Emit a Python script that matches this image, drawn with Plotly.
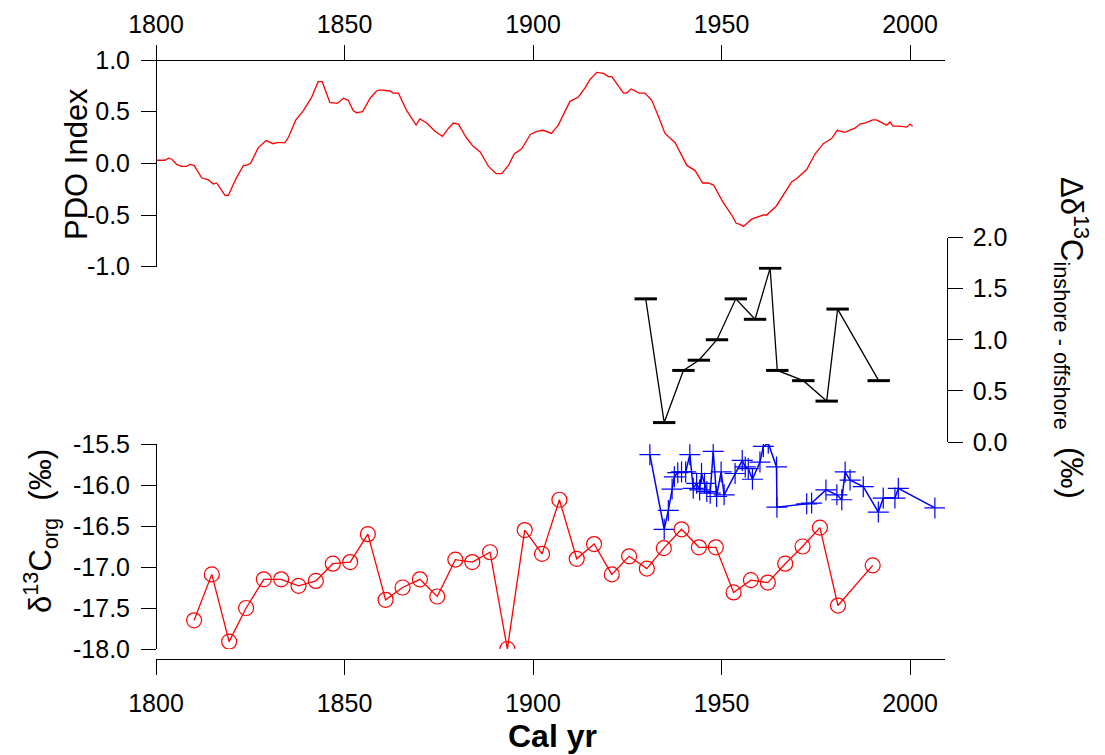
import plotly.graph_objects as go

# PDO index (smoothed)
pdo_year = [1800.2, 1802.4, 1803.3, 1804.2, 1805.5, 1806.8, 1808.1, 1809.0, 1810.1, 1812.1, 1813.9,
            1815.2, 1816.1, 1818.3, 1819.2, 1821.2, 1823.2, 1824.0, 1825.1, 1827.1, 1829.2, 1831.1,
            1832.0, 1834.2, 1835.1, 1837.1, 1839.1, 1841.3, 1843.0, 1844.1, 1846.1, 1848.1, 1849.7,
            1851.0, 1852.3, 1853.2, 1854.8, 1856.8, 1858.5, 1859.4, 1862.1, 1862.9, 1864.3, 1866.5,
            1869.0, 1870.0, 1871.8, 1874.0, 1876.0, 1877.6, 1878.9, 1880.2, 1882.3, 1884.0, 1886.0,
            1888.2, 1890.2, 1891.7, 1893.5, 1895.0, 1897.0, 1899.3, 1901.0, 1902.7, 1904.9, 1906.7,
            1909.8, 1912.0, 1913.8, 1915.1, 1916.9, 1918.7, 1920.0, 1920.9, 1924.0, 1924.9, 1926.0,
            1927.3, 1928.2, 1929.7, 1931.5, 1933.3, 1935.0, 1937.7, 1940.8, 1943.0, 1945.0, 1946.5,
            1947.9, 1950.3, 1952.7, 1953.9, 1954.9, 1955.8, 1958.0, 1960.2, 1961.1, 1962.0, 1964.6,
            1968.6, 1969.9, 1972.6, 1974.8, 1977.0, 1979.2, 1980.7, 1982.7, 1985.4, 1986.7, 1988.0,
            1990.1, 1991.1, 1993.3, 1993.8, 1994.7, 1995.5, 1997.3, 1999.1, 2000.0, 2000.7]
pdo_value = [0.03, 0.03, 0.05, 0.04, -0.01, -0.03, -0.03, -0.01, -0.02, -0.14, -0.16,
             -0.20, -0.19, -0.31, -0.31, -0.15, -0.02, -0.02, 0.00, 0.15, 0.22, 0.19,
             0.20, 0.20, 0.25, 0.42, 0.51, 0.64, 0.79, 0.79, 0.59, 0.58, 0.63,
             0.61, 0.51, 0.49, 0.50, 0.63, 0.70, 0.71, 0.70, 0.68, 0.68, 0.51,
             0.37, 0.43, 0.39, 0.31, 0.26, 0.34, 0.39, 0.38, 0.25, 0.17, 0.11,
             -0.03, -0.10, -0.10, -0.02, 0.09, 0.14, 0.28, 0.31, 0.32, 0.29, 0.37,
             0.60, 0.64, 0.73, 0.81, 0.88, 0.87, 0.84, 0.84, 0.68, 0.68, 0.72,
             0.70, 0.68, 0.68, 0.61, 0.45, 0.29, 0.20, -0.02, -0.07, -0.19, -0.19,
             -0.21, -0.37, -0.50, -0.58, -0.59, -0.61, -0.54, -0.51, -0.50, -0.50, -0.41,
             -0.18, -0.15, -0.06, 0.09, 0.19, 0.24, 0.32, 0.30, 0.34, 0.38, 0.39,
             0.42, 0.42, 0.38, 0.37, 0.40, 0.36, 0.36, 0.35, 0.38, 0.36]

# Delta d13C inshore - offshore
diff_year = [1929.9, 1934.8, 1939.9, 1944.0, 1948.8, 1953.8, 1958.9, 1962.9, 1964.8, 1971.7, 1977.9, 1980.8, 1991.7]
diff_value = [1.40, 0.19, 0.70, 0.80, 1.00, 1.40, 1.20, 1.70, 0.70, 0.60, 0.40, 1.30, 0.60]

# d13Corg offshore (blue)
blue_year = [1931.0, 1934.8, 1935.9, 1936.9, 1937.5, 1938.4, 1939.4, 1940.5, 1941.6, 1942.5, 1943.4,
             1944.2, 1944.7, 1945.5, 1946.1, 1947.0, 1947.8, 1948.7, 1949.9, 1950.7, 1953.6, 1955.5,
             1956.3, 1957.1, 1958.2, 1960.2, 1961.1, 1962.4, 1964.6, 1964.7, 1972.6, 1973.9, 1977.7,
             1980.6, 1981.9, 1982.8, 1984.1, 1987.6, 1991.6, 1992.9, 1996.0, 1996.9, 2006.6]
blue_value = [-15.63, -16.54, -16.31, -16.05, -15.90, -15.85, -15.84, -15.84, -15.63, -16.04, -15.98,
              -16.06, -15.86, -15.98, -16.08, -16.10, -15.59, -16.14, -15.84, -16.12, -15.86, -15.70,
              -15.78, -15.80, -15.93, -15.72, -15.53, -15.49, -15.78, -16.27, -16.23, -16.22, -16.06,
              -16.12, -16.18, -15.84, -15.94, -16.02, -16.33, -16.16, -16.16, -16.04, -16.28]

# d13Corg inshore (red circles)
red_year = [1810.1, 1814.8, 1819.4, 1823.9, 1828.6, 1833.2, 1837.8, 1842.4, 1846.9, 1851.5, 1856.2,
            1860.9, 1865.4, 1870.0, 1874.6, 1879.4, 1883.9, 1888.6, 1893.2, 1897.8, 1902.4, 1907.0,
            1911.6, 1916.2, 1920.9, 1925.5, 1930.2, 1934.7, 1939.4, 1944.0, 1948.5, 1953.2, 1957.8,
            1962.3, 1966.9, 1971.5, 1976.1, 1980.9, 1990.1]
red_value = [-17.65, -17.09, -17.91, -17.50, -17.15, -17.15, -17.23, -17.17, -16.96, -16.94, -16.60,
             -17.40, -17.25, -17.15, -17.36, -16.91, -16.94, -16.82, -18.00, -16.55, -16.84, -16.18,
             -16.90, -16.72, -17.09, -16.87, -17.02, -16.77, -16.54, -16.76, -16.76, -17.31, -17.16,
             -17.19, -16.96, -16.75, -16.52, -17.47, -16.98]

x_ticks = [1800, 1850, 1900, 1950, 2000]
pdo_ticks = [-1.0, -0.5, 0.0, 0.5, 1.0]
diff_ticks = [0.0, 0.5, 1.0, 1.5, 2.0]
corg_ticks = [-18.0, -17.5, -17.0, -16.5, -16.0, -15.5]

W, H = 1105, 755
FONT = "Liberation Sans, Arial, Helvetica, sans-serif"

def px_x(p):
    return p / W

def px_y(p):
    return 1 - p / H

def lbl(v):
    return f"{v:.1f}".replace("\u2212", "-")

fig = go.Figure()

fig.add_trace(go.Scatter(x=pdo_year, y=pdo_value, xaxis="x2", yaxis="y", mode="lines",
                         line=dict(color="#ff0000", width=1.3), showlegend=False))
fig.add_trace(go.Scatter(x=diff_year, y=diff_value, xaxis="x", yaxis="y2", mode="lines+markers",
                         line=dict(color="black", width=1.3),
                         marker=dict(symbol="line-ew", size=16, line=dict(color="black", width=3)),
                         showlegend=False))
fig.add_trace(go.Scatter(x=blue_year, y=blue_value, xaxis="x", yaxis="y3", mode="lines+markers",
                         line=dict(color="#0000ff", width=1.5),
                         marker=dict(symbol="cross-thin", size=15, line=dict(color="#0000ff", width=1.2)),
                         showlegend=False))
fig.add_trace(go.Scatter(x=red_year, y=red_value, xaxis="x", yaxis="y3", mode="lines+markers",
                         line=dict(color="#ff0000", width=1.3),
                         marker=dict(symbol="circle-open", size=15, color="#ff0000",
                                     line=dict(color="#ff0000", width=1.2)),
                         showlegend=False))

x0, x1 = 156, 945
xr = [1800, 1800 + (x1 - x0) * 200 / 754]
tickfont = dict(family=FONT, size=25, color="black")
common = dict(showline=True, linecolor="black", linewidth=1, ticks="outside", ticklen=15,
              tickcolor="black", tickwidth=1, showgrid=False, zeroline=False, tickfont=tickfont,
              automargin=False)

fig.update_layout(
    width=W, height=H, margin=dict(l=0, r=0, t=0, b=0, pad=0), autosize=False,
    paper_bgcolor="white", plot_bgcolor="white",
    font=dict(family=FONT, color="black"),
    xaxis=dict(domain=[px_x(x0), px_x(x1)], range=xr, anchor="free", position=px_y(659),
               side="bottom", tickvals=x_ticks, ticktext=[str(v) for v in x_ticks],
               ticklabelstandoff=7, **common),
    xaxis2=dict(domain=[px_x(x0), px_x(x1)], range=xr, matches="x", anchor="free", position=px_y(60),
                side="top", tickvals=x_ticks, ticktext=[str(v) for v in x_ticks],
                ticklabelstandoff=2, **common),
    yaxis=dict(domain=[px_y(266.7), px_y(60)], range=[-1, 1], anchor="free", position=px_x(156),
               side="left", tickvals=pdo_ticks, ticktext=[lbl(v) for v in pdo_ticks],
               ticklabelstandoff=6, **common),
    yaxis2=dict(domain=[px_y(442), px_y(237.5)], range=[0, 2], anchor="free", position=px_x(946.7),
                side="right", tickvals=diff_ticks, ticktext=[lbl(v) for v in diff_ticks],
                ticklabelstandoff=5, **common),
    yaxis3=dict(domain=[px_y(649), px_y(444)], range=[-18, -15.5], anchor="free", position=px_x(156),
                side="left", tickvals=corg_ticks, ticktext=[lbl(v) for v in corg_ticks],
                ticklabelstandoff=6, **common),
)

ann_font = dict(family=FONT, size=31, color="black")
fig.add_annotation(text="PDO Index", x=px_x(77), y=px_y(164), xref="paper", yref="paper",
                   xanchor="center", yanchor="middle",
                   showarrow=False, textangle=-90, font=ann_font)
fig.add_annotation(text="δ<sup>13</sup>C<sub>org</sub>  (‰)", x=px_x(40), y=px_y(531),
                   xref="paper", yref="paper", xanchor="center", yanchor="middle",
                   showarrow=False, textangle=-90, font=ann_font)
fig.add_annotation(text="Δδ<sup>13</sup>C<sub>inshore - offshore</sub>  (‰)", x=px_x(1072), y=px_y(338),
                   xref="paper", yref="paper", xanchor="center", yanchor="middle",
                   showarrow=False, textangle=90, font=ann_font)
fig.add_annotation(text="<b>Cal yr</b>", x=px_x(552), y=px_y(736), xref="paper", yref="paper",
                   xanchor="center", yanchor="middle",
                   showarrow=False, font=dict(family=FONT, size=32, color="black"))

fig.write_html("out.html")
